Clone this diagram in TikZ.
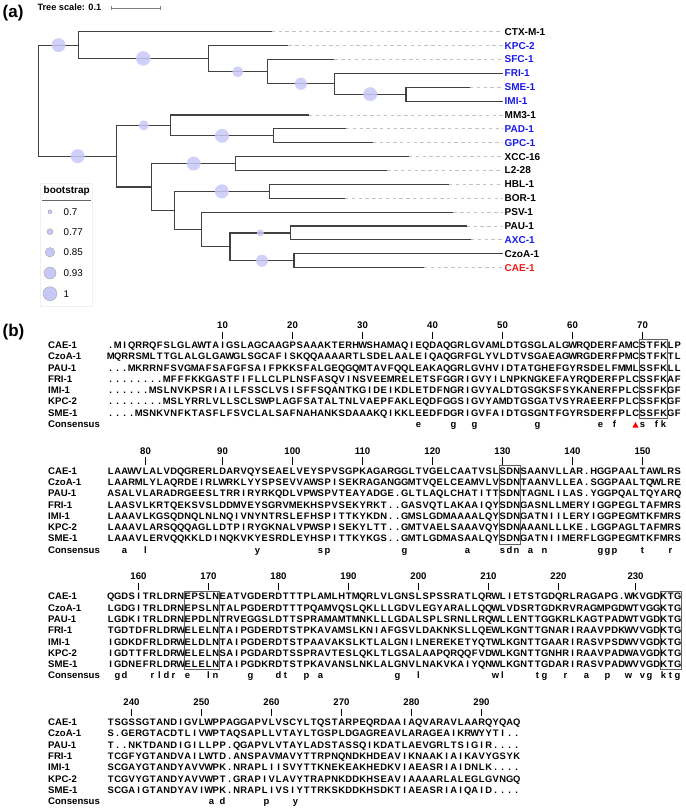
\documentclass[tikz,border=0pt]{standalone}
\usepackage{fontspec}
\setmainfont{Liberation Sans}
\usetikzlibrary{calc}
\definecolor{tblue}{RGB}{25,25,235}
\definecolor{tred}{RGB}{235,25,25}
\definecolor{bootc}{RGB}{200,200,248}
\definecolor{branchc}{RGB}{65,65,65}
\definecolor{dashc}{RGB}{195,195,195}
\definecolor{boxc}{RGB}{95,95,95}
\newlength\seqcw
\setlength\seqcw{7pt}
\def\seqrow#1{\seqloop#1\relax}
\def\seqloop#1{\ifx\relax#1\else\hbox to\seqcw{\hss#1\hss}\expandafter\seqloop\fi}
\newcommand\alnrow[4]{%
  \pgfmathsetmacro\yb{345+125.7*#1+11.3*#2+3.4}%
  \node[alnname] (n-#1-#2) at (48,\yb) {#3};
  \node[alnseq] (s-#1-#2) at (107,\yb) {\seqrow{#4}};
}
\newcommand\alncons[2]{%
  \pgfmathsetmacro\yb{345+125.7*#1+11.3*7+3.4}%
  \node[alnname] (n-#1-7) at (48,\yb) {Consensus};
  \foreach \c/\l in {#2}{\node[alnseq,anchor=base] (c-#1-\c) at ({103.5+7*\c},\yb) {\l};}
}
\newcommand\alnnums[2]{%
  \pgfmathsetmacro\yb{345+125.7*#1}%
  \foreach \c/\n in {#2}{%
    \node[alnnum] (k-#1-\c) at ({103.5+7*\c},{\yb-16.5}) {\n};
    \draw[numtick] ({103.5+7*\c},{\yb-13.5}) -- ({103.5+7*\c},{\yb-6});
  }
}
\newcommand\alnbox[3]{%
  \pgfmathsetmacro\yb{345+125.7*#1}%
  \draw[selbox] ({107+7*(#2-1)},{\yb-5.5}) rectangle ({107+7*#3},{\yb+11.3*6+5.5});
}
\begin{document}
\begin{tikzpicture}[x=1pt,y=-1pt,
  br/.style={draw=branchc,line width=1.1pt},
  dsh/.style={draw=dashc,line width=0.9pt,dash pattern=on 3.4pt off 3.4pt},
  bootn/.style={circle,fill=bootc,fill opacity=0.85,draw=none,inner sep=0pt,minimum size=#1},
  legc/.style={circle,fill=bootc,draw=gray!70,line width=0.4pt,inner sep=0pt,minimum size=#1},
  leaf/.style={anchor=west,inner sep=0pt,font=\fontsize{10}{12}\selectfont\bfseries},
  alnname/.style={anchor=base west,inner sep=0pt,font=\fontsize{9.6}{11}\selectfont\bfseries},
  alnseq/.style={anchor=base west,inner sep=0pt,font=\fontsize{9.4}{11}\selectfont\bfseries},
  alnnum/.style={anchor=base,inner sep=0pt,font=\fontsize{9.6}{11}\selectfont\bfseries},
  numtick/.style={draw=black,line width=0.8pt},
  selbox/.style={draw=boxc,line width=0.8pt},
]
\useasboundingbox (0,0) rectangle (685,808);
% ---------- panel labels
\node[anchor=west,inner sep=0pt,font=\fontsize{17}{20}\selectfont\bfseries] (pa) at (2.5,13) {(a)};
\node[anchor=west,inner sep=0pt,font=\fontsize{17}{20}\selectfont\bfseries] (pb) at (2.5,332) {(b)};
% ---------- tree scale
\node[anchor=west,inner sep=0pt,font=\fontsize{9.2}{11}\selectfont\bfseries] (ts) at (37.3,7.5) {Tree scale: 0.1};
\coordinate (sc1) at (111.7,8);
\coordinate (sc2) at (160,8);
\draw[gray,line width=0.8pt] (sc1) -- (sc2);
\draw[gray,line width=0.8pt] ($(sc1)+(0,-2)$) -- ($(sc1)+(0,2)$);
\draw[gray,line width=0.8pt] ($(sc2)+(0,-2)$) -- ($(sc2)+(0,2)$);
% ---------- leaves
\foreach \i/\nm/\xe/\col in {0/CTX-M-1/271.7/black,1/KPC-2/288.3/tblue,2/SFC-1/334.3/tblue,3/FRI-1/502.7/tblue,4/SME-1/470/tblue,5/IMI-1/502.7/tblue,6/MM3-1/309/black,7/PAD-1/346/tblue,8/GPC-1/372.7/tblue,9/XCC-16/409/black,10/L2-28/387.3/black,11/HBL-1/449/black,12/BOR-1/345/black,13/PSV-1/453.3/black,14/PAU-1/466.7/black,15/AXC-1/471/tblue,16/CzoA-1/502.7/black,17/CAE-1/424/tred}{
  \pgfmathsetmacro\yl{31.7+13.88*\i}
  \coordinate (L\i) at (\xe,\yl);
  \node[leaf,text=\col] (lab\i) at (504.5,\yl) {\nm};
  \draw[dsh] (L\i) -- (502.7,\yl);
}
% ---------- internal nodes
\coordinate (R) at (38.7,100.7);
\coordinate (A) at (78.3,45.2);
\coordinate (A2) at (208.3,58.45);
\coordinate (A3) at (267.3,71.75);
\coordinate (A4) at (334.5,83.75);
\coordinate (A5) at (406,94.15);
\coordinate (B) at (116.7,156.2);
\coordinate (B1) at (170.7,125.4);
\coordinate (B11) at (273.3,135.8);
\coordinate (B2) at (151.7,187);
\coordinate (B21) at (235.7,163.55);
\coordinate (B22) at (174.3,210.4);
\coordinate (B221) at (269.3,191.35);
\coordinate (B222) at (201.7,229.5);
\coordinate (B2222) at (230,246.85);
\coordinate (Bpa) at (290.7,232.95);
\coordinate (Bcc) at (294,260.75);
\foreach \p/\c in {R/A,R/B,A/L0,A/A2,A2/L1,A2/A3,A3/L2,A3/A4,A4/L3,A4/A5,A5/L4,A5/L5,B/B1,B/B2,B1/L6,B1/B11,B11/L7,B11/L8,B2/B21,B2/B22,B21/L9,B21/L10,B22/B221,B22/B222,B221/L11,B221/L12,B222/L13,B222/B2222,B2222/Bpa,B2222/Bcc,Bpa/L14,Bpa/L15,Bcc/L16,Bcc/L17}{
  \draw[br] (\p) |- (\c);
}
% ---------- bootstrap circles
\foreach \p/\c/\s in {R/A/14,A/A2/14.5,A2/A3/11,A3/A4/12.2,A4/A5/14,R/B/14,B/B1/10,B1/B11/14,B2/B21/14,B22/B221/14,B2222/Bpa/7,B2222/Bcc/12}{
  \node[bootn=\s pt] (bs-\c) at ($(\p |- \c)!0.5!(\c)$) {};
}
% ---------- legend
\draw[draw=gray!12,line width=0.6pt] (40,183.3) rectangle (92.7,306);
\node[inner sep=0pt,font=\fontsize{10}{12}\selectfont\bfseries] (legt) at (66.7,191.3) {bootstrap};
\draw[draw=gray!80!black,line width=0.9pt] (42,200) -- (91,200);
\foreach \k/\v/\s/\yy in {1/0.7/4/211.7,2/0.77/6/231.7,3/0.85/9.4/252.3,4/0.93/12/273,5/1/14/293.7}{
  \node[legc=\s pt] (lc\k) at (50,\yy) {};
  \node[anchor=west,inner sep=0pt,font=\fontsize{9.8}{12}\selectfont] (lv\k) at (63.5,\yy) {\v};
}
% ---------- alignment block 1
\alnnums{0}{17/10,27/20,37/30,47/40,57/50,67/60,77/70}
\alnrow{0}{0}{CAE-1}{.MIQRRQFSLGLAWTAIGSLAGCAAGPSAAAKTERHWSHAMAQIEQDAQGRLGVAMLDTGSGLALGWRQDERFAMCSTFKLP}
\alnrow{0}{1}{CzoA-1}{MQRRSMLTTGLALGLGAWGLSGCAFISKQQAAAARTLSDELAALEIQAQGRFGLYVLDTVSGAEAGWRGDERFPMCSTFKTL}
\alnrow{0}{2}{PAU-1}{...MKRRNFSVGMAFSAFGFSAIFPKKSFALGEQGQMTAVFQQLEAKAQGRLGVHVIDTATGHEFGYRSDELFMMLSSFKLL}
\alnrow{0}{3}{FRI-1}{........MFFFKKGASTFIFLLCLPLNSFASQVINSVEEMRELETSFGGRIGVYILNPKNGKEFAYRQDERFPLCSSFKAF}
\alnrow{0}{4}{IMI-1}{......MSLNVKPSRIAILFSSCLVSISFFSQANTKGIDEIKDLETDFNGRIGVYALDTGSGKSFSYKANERFPLCSSFKGF}
\alnrow{0}{5}{KPC-2}{........MSLYRRLVLLSCLSWPLAGFSATALTNLVAEPFAKLEQDFGGSIGVYAMDTGSGATVSYRAEERFPLCSSFKGF}
\alnrow{0}{6}{SME-1}{....MSNKVNFKTASFLFSVCLALSAFNAHANKSDAAAKQIKKLEEDFDGRIGVFAIDTGSGNTFGYRSDERFPLCSSFKGF}
\alncons{0}{45/e,50/g,53/g,62/g,71/e,73/f,77/s,79/f,80/k}
\alnbox{0}{77}{80}
\fill[red] (632.5,427.5) -- (638.5,427.5) -- (635.5,422) -- cycle;
% ---------- alignment block 2
\alnnums{1}{6/80,17/90,27/100,37/110,47/120,57/130,67/140,77/150}
\alnrow{1}{0}{CAE-1}{LAAWVLALVDQGRERLDARVQYSEAELVEYSPVSGPKAGARGGLTVGELCAATVSLSDNSAANVLLAR.HGGPAALTAWLRS}
\alnrow{1}{1}{CzoA-1}{LAARMLYLAQRDEIRLWRKLYYSPSEVVAWSPISEKRAGANGGMTVQELCEAMVLVSDNTAANVLLEA.SGGPAALTQWLRE}
\alnrow{1}{2}{PAU-1}{ASALVLARADRGEESLTRRIRYRKQDLVPWSPVTEAYADGE.GLTLAQLCHATITTSDNTAGNLILAS.YGGPQALTQYARQ}
\alnrow{1}{3}{FRI-1}{LAASVLKRTQEKSVSLDDMVEYSGRVMEKHSPVSEKYRKT..GASVQTLAKAAIQYSDNGASNLLMERYIGGPEGLTAFMRS}
\alnrow{1}{4}{IMI-1}{LAAAVLKGSQDNQLNLNQIVNYNTRSLEFHSPITTKYKDN..GMSLGDMAAAALQYSDNGATNIILERYIGGPEGMTKFMRS}
\alnrow{1}{5}{KPC-2}{LAAAVLARSQQQAGLLDTPIRYGKNALVPWSPISEKYLTT..GMTVAELSAAAVQYSDNAAANLLLKE.LGGPAGLTAFMRS}
\alnrow{1}{6}{SME-1}{LAAAVLERVQQKKLDINQKVKYESRDLEYHSPITTKYKGS..GMTLGDMASAALQYSDNGATNIIMERFLGGPEGMTKFMRS}
\alncons{1}{3/a,6/l,22/y,31/s,32/p,43/g,52/a,57/s,58/d,59/n,61/a,63/n,71/g,72/g,73/p,77/t,81/r}
\alnbox{1}{57}{59}
% ---------- alignment block 3
\alnnums{2}{5/160,15/170,25/180,35/190,45/200,55/210,65/220,76/230}
\alnrow{2}{0}{CAE-1}{QGDSITRLDRNEPSLNEATVGDERDTTTPLAMLHTMQRLVLGNSLSPSSRATLQRWLIETSTGDQRLRAGAPG.WKVGDKTG}
\alnrow{2}{1}{CzoA-1}{LGDGITRLDRNEPSLNTALPGDERDTTTPQAMVQSLQKLLLGDVLEGYARALLQQWLVDSRTGDKRVRAGMPGDWTVGGKTG}
\alnrow{2}{2}{PAU-1}{LGDKITRLDRNEPDLNTRVEGGSLDTTSPRAMAMTMNKLLLGDALSPLSRNLLRQWLLENTTGGKRLKAGTPADWTVGDKTG}
\alnrow{2}{3}{FRI-1}{TGDTDFRLDRWELELNTAIPGDERDTSTPKAVAMSLKNIAFGSVLDAKNKSLLQEWLKGNTTGNARIRAAVPDKWVVGDKTG}
\alnrow{2}{4}{IMI-1}{IGDKDFRLDRWELDLNTAIPGDERDTSTPAAVAKSLKTLALGNILNEREKETYQTWLKGNTTGAARIRASVPSDWVVGDKTG}
\alnrow{2}{5}{KPC-2}{IGDTTFRLDRWELELNSAIPGDARDTSSPRAVTESLQKLTLGSALAAPQRQQFVDWLKGNTTGNHRIRAAVPADWAVGDKTG}
\alnrow{2}{6}{SME-1}{IGDNEFRLDRWELELNTAIPGDKRDTSTPKAVANSLNKLALGNVLNAKVKAIYQNWLKGNTTGDARIRASVPADWVVGDKTG}
\alncons{2}{2/g,3/d,7/r,8/l,9/d,10/r,12/e,15/l,16/n,21/g,25/d,26/t,29/p,31/a,42/g,45/l,56/w,57/l,62/t,63/g,66/r,69/a,72/p,75/w,77/v,78/g,80/k,81/t,82/g}
\alnbox{2}{12}{16}
\alnbox{2}{80}{82}
% ---------- alignment block 4
\alnnums{3}{4/240,14/250,24/260,34/270,44/280,54/290}
\alnrow{3}{0}{CAE-1}{TSGSSGTANDIGVLWPPAGGAPVLVSCYLTQSTARPEQRDAAIAQVARAVLAARQYQAQ}
\alnrow{3}{1}{CzoA-1}{S.GERGTACDTLIVWPTAQSAPLLVTAYLTGSPLDGAGREAVLARAGEAIKRWYYTI..}
\alnrow{3}{2}{PAU-1}{T..NKTDANDIGILLPP.QGAPVLVTAYLADSTASSQIKDATLAEVGRLTSIGIR....}
\alnrow{3}{3}{FRI-1}{TCGFYGTANDVAILWTD.ANSPAVMAVYTTRPNQNDKHDEAVIKNAAKIAIKAVYGSYK}
\alnrow{3}{4}{IMI-1}{SCGAYGTANDYAVVWPK.NRAPLIISVYTTKNEKEAKHEDKVIAEASRIAIDNLK....}
\alnrow{3}{5}{KPC-2}{TCGVYGTANDYAVVWPT.GRAPIVLAVYTRAPNKDDKHSEAVIAAAARLALEGLGVNGQ}
\alnrow{3}{6}{SME-1}{SCGAIGTANDYAVIWPK.NRAPLIVSIYTTRKSKDDKHSDKTIAEASRIAIQAID....}
\pgfmathsetmacro\yc{345+125.7*3+11.3*7+3.4}
\node[alnname] (n-3-7) at (48,\yc) {Consensus};
\foreach \xx/\l in {211.5/a,222.5/d,266.5/p,295.5/y}{\node[alnseq,anchor=base] (c-3-\xx) at (\xx,\yc) {\l};}
\end{tikzpicture}
\end{document}
